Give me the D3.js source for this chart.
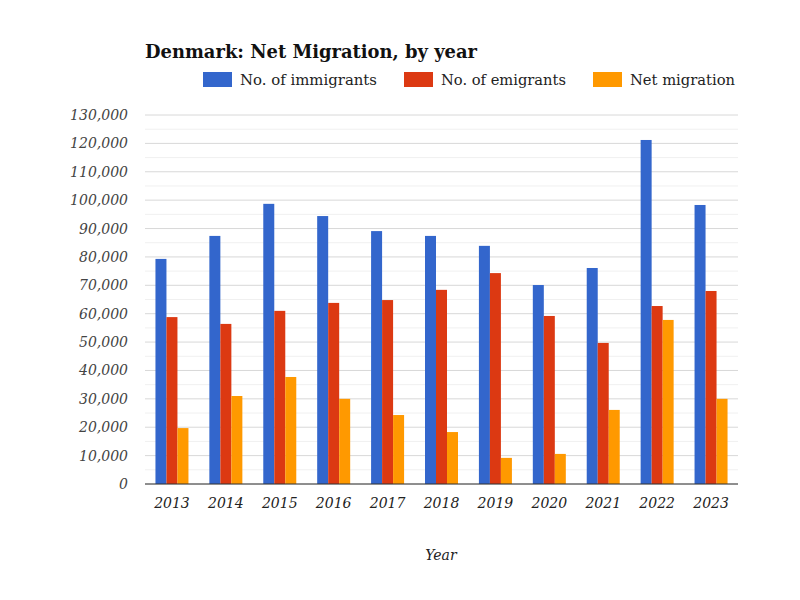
<!DOCTYPE html>
<html><head><meta charset="utf-8">
<script src="https://cdn.jsdelivr.net/npm/d3@7"></script>
<style>body{margin:0;background:#fff}svg{font-family:"DejaVu Serif",serif}</style>
</head><body><svg id="c" width="800" height="600"></svg>
<script>
const years=["2013","2014","2015","2016","2017","2018","2019","2020","2021","2022","2023"];
const immigrants=[79300,87400,98700,94400,89100,87400,83900,70100,76100,121200,98300];
const emigrants=[58800,56400,61000,63800,64800,68400,74300,59200,49700,62700,68000];
const netMigration=[19700,31000,37700,30000,24300,18300,9200,10600,26100,57800,30000];
const seriesNames=["No. of immigrants","No. of emigrants","Net migration"];
const colors=["#3366cc","#dc3912","#ff9900"];
const yTicks=d3.range(0,130001,10000);

const svg=d3.select("#c");
const m={l:145,r:738,t:115,b:484};
const x=d3.scaleBand().domain(years).range([m.l,m.r]).padding(0);
const y=d3.scaleLinear().domain([0,130000]).range([m.b,m.t]);
const data=[immigrants,emigrants,netMigration];

svg.append("g").selectAll("line").data(d3.range(5000,130001,10000)).join("line")
 .attr("x1",m.l).attr("x2",m.r).attr("y1",d=>y(d)).attr("y2",d=>y(d)).attr("stroke","#f0f0f0");
svg.append("g").selectAll("line").data(yTicks).join("line")
 .attr("x1",m.l).attr("x2",m.r).attr("y1",d=>y(d)).attr("y2",d=>y(d)).attr("stroke","#d8d8d8");
svg.append("g").selectAll("text").data(yTicks).join("text")
 .attr("x",128).attr("y",d=>y(d)+5).attr("text-anchor","end").attr("font-style","italic")
 .attr("font-size",14).attr("fill","#444").text(d=>d3.format(",")(d));

const bw=11;
data.forEach((arr,si)=>{
 svg.append("g").selectAll("rect").data(arr).join("rect")
  .attr("x",(d,i)=>x(years[i])+x.bandwidth()/2-1.5*bw+si*bw)
  .attr("width",bw).attr("y",d=>y(d)).attr("height",d=>y(0)-y(d)).attr("fill",colors[si]);
});
svg.append("line").attr("x1",m.l).attr("x2",m.r).attr("y1",y(0)).attr("y2",y(0)).attr("stroke","#333");
svg.append("g").selectAll("text").data(years).join("text")
 .attr("x",d=>x(d)+x.bandwidth()/2).attr("y",508).attr("text-anchor","middle")
 .attr("font-style","italic").attr("font-size",14).attr("fill","#222").text(d=>d);
svg.append("text").attr("x",441).attr("y",560).attr("text-anchor","middle")
 .attr("font-style","italic").attr("font-size",14).attr("fill","#222").text("Year");
svg.append("text").attr("x",145).attr("y",58).attr("font-weight","bold").attr("font-size",19)
 .attr("fill","#111").attr("textLength",332).attr("lengthAdjust","spacingAndGlyphs").text("Denmark: Net Migration, by year");
const lx=[203,404,593], lw=[137,125,105];
seriesNames.forEach((n,i)=>{
 svg.append("rect").attr("x",lx[i]).attr("y",72).attr("width",29).attr("height",15).attr("fill",colors[i]);
 svg.append("text").attr("x",lx[i]+37).attr("y",85).attr("font-size",15).attr("fill","#222")
  .attr("textLength",lw[i]).attr("lengthAdjust","spacingAndGlyphs").text(n);
});
</script></body></html>
